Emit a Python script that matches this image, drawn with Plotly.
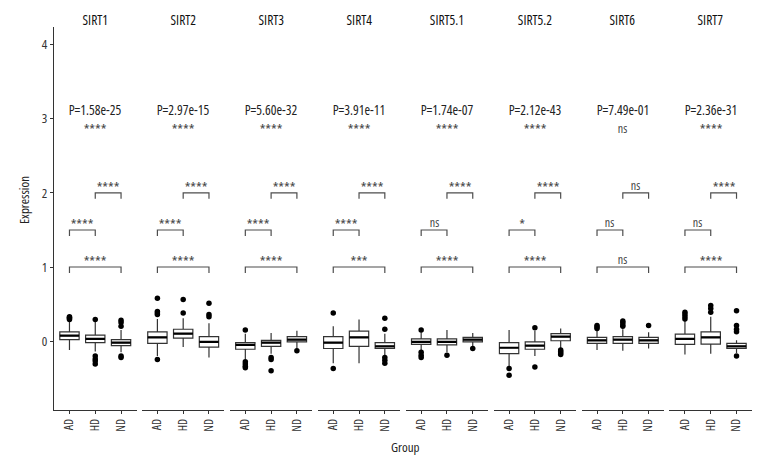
import plotly.graph_objects as go
from plotly.subplots import make_subplots

genes = ["SIRT1", "SIRT2", "SIRT3", "SIRT4", "SIRT5.1", "SIRT5.2", "SIRT6", "SIRT7"]
groups = ["AD", "HD", "ND"]

# box statistics per gene: lists over groups AD, HD, ND
q1 = [[0.02, -0.02, -0.06], [-0.03, 0.04, -0.08], [-0.11, -0.07, -0.01], [-0.10, -0.07, -0.10],
      [-0.045, -0.05, -0.01], [-0.17, -0.11, 0.005], [-0.03, -0.03, -0.03], [-0.045, -0.04, -0.10]]
med = [[0.075, 0.03, -0.02], [0.05, 0.10, -0.01], [-0.05, -0.02, 0.02], [-0.02, 0.05, -0.07],
       [-0.01, -0.01, 0.02], [-0.09, -0.06, 0.06], [0.01, 0.02, 0.01], [0.03, 0.05, -0.07]]
q3 = [[0.125, 0.08, 0.02], [0.125, 0.16, 0.06], [-0.02, 0.01, 0.06], [0.06, 0.135, -0.02],
      [0.03, 0.03, 0.05], [-0.02, -0.01, 0.10], [0.05, 0.06, 0.05], [0.095, 0.125, -0.03]]
lo = [[-0.12, -0.14, -0.15], [-0.20, -0.08, -0.22], [-0.25, -0.17, -0.10], [-0.30, -0.30, -0.20],
      [-0.13, -0.15, -0.07], [-0.35, -0.20, -0.11], [-0.12, -0.13, -0.10], [-0.18, -0.17, -0.16]]
hi = [[0.27, 0.26, 0.15], [0.30, 0.31, 0.24], [0.10, 0.11, 0.14], [0.20, 0.29, 0.10],
      [0.12, 0.15, 0.11], [0.15, 0.14, 0.17], [0.15, 0.16, 0.12], [0.28, 0.33, 0.01]]
outliers = [
    [[0.29, 0.31, 0.32, 0.33], [0.29, -0.20, -0.24, -0.27, -0.31], [0.20, 0.25, 0.28, -0.20, -0.22]],
    [[0.36, 0.38, 0.40, 0.58, -0.25], [0.38, 0.56], [0.33, 0.36, 0.51]],
    [[0.15, -0.28, -0.31, -0.34, -0.36], [-0.22, -0.25, -0.40], [-0.13]],
    [[0.38, -0.37], [], [0.16, 0.31, -0.22, -0.26, -0.30]],
    [[0.15, -0.15, -0.19, -0.22], [-0.19], [-0.10]],
    [[-0.37, -0.46], [0.18, -0.35], [-0.12, -0.14, -0.16, -0.18]],
    [[0.17, 0.19, 0.21], [0.20, 0.22, 0.25, 0.27], [0.21]],
    [[0.30, 0.33, 0.36, 0.39], [0.39, 0.44, 0.48], [0.125, 0.16, 0.21, 0.41, -0.20]],
]

p_values = ["1.58e-25", "2.97e-15", "5.60e-32", "3.91e-11", "1.74e-07", "2.12e-43", "7.49e-01", "2.36e-31"]
overall_sig = ["****", "****", "****", "****", "****", "****", "ns", "****"]
sig_ad_hd = ["****", "****", "****", "****", "ns", "*", "ns", "ns"]
sig_hd_nd = ["****", "****", "****", "****", "****", "****", "ns", "****"]
sig_ad_nd = ["****", "****", "****", "***", "****", "****", "ns", "****"]

FONT = "Open Sans, DejaVu Sans Condensed, sans-serif"
AX = "#333333"
BR = "#4d4d4d"

PLOT_W = 768 - 54 - 16
n = len(genes)
fig = make_subplots(rows=1, cols=n, shared_yaxes=True, horizontal_spacing=5.4 / PLOT_W)


def sig_font(lab):
    return dict(family=FONT, size=12 if lab == "ns" else 14.5, color="#444")


BW = 0.75
for k in range(n):
    col = k + 1
    xr = "x" if col == 1 else f"x{col}"
    xs = [1, 2, 3]
    fig.add_trace(go.Box(
        x=xs, q1=q1[k], median=med[k], q3=q3[k], lowerfence=lo[k], upperfence=hi[k],
        width=BW, whiskerwidth=0, fillcolor="white",
        line=dict(color=AX, width=1.2), boxpoints=False, showlegend=False, hoverinfo="skip"),
        row=1, col=col)
    mx, my = [], []
    for i, m in enumerate(med[k]):
        mx += [xs[i] - BW / 2, xs[i] + BW / 2, None]
        my += [m, m, None]
    fig.add_trace(go.Scatter(x=mx, y=my, mode="lines", line=dict(color="black", width=2.2),
                             showlegend=False, hoverinfo="skip"), row=1, col=col)
    ox, oy = [], []
    for i, pts in enumerate(outliers[k]):
        ox += [xs[i]] * len(pts)
        oy += pts
    fig.add_trace(go.Scatter(x=ox, y=oy, mode="markers", marker=dict(color="black", size=5.5),
                             showlegend=False, hoverinfo="skip"), row=1, col=col)
    pairs = [(1, 2, 1.5, sig_ad_hd[k]), (2, 3, 2.0, sig_hd_nd[k]), (1, 3, 1.0, sig_ad_nd[k])]
    for a, b, yb, lab in pairs:
        fig.add_trace(go.Scatter(x=[a, a, b, b], y=[yb - 0.08, yb, yb, yb - 0.08], mode="lines",
                                 line=dict(color=BR, width=1.2), showlegend=False, hoverinfo="skip"),
                      row=1, col=col)
        fig.add_annotation(x=(a + b) / 2, y=yb + (0.1 if lab == "ns" else 0.07), xref=xr, yref="y",
                           text=lab, showarrow=False, yanchor="middle", font=sig_font(lab))
    fig.add_annotation(x=2, y=3.12, xref=xr, yref="y", text="P=" + p_values[k], showarrow=False,
                       yanchor="middle", font=dict(family=FONT, size=13.5, color="#222"))
    fig.add_annotation(x=2, y=2.87 if overall_sig[k] == "ns" else 2.85, xref=xr, yref="y",
                       text=overall_sig[k], showarrow=False, yanchor="middle", font=sig_font(overall_sig[k]))
    fig.add_annotation(x=2, y=1, xref=xr, yref="paper", text=genes[k], showarrow=False,
                       yanchor="middle", yshift=7, font=dict(family=FONT, size=13.5, color="#111"))
    fig.update_xaxes(range=[0.4, 3.6], tickvals=xs, ticktext=groups, tickangle=-90,
                     showline=True, linecolor=AX, linewidth=1.2, ticks="outside", ticklen=3,
                     tickcolor=AX, tickwidth=1, showgrid=False, zeroline=False, automargin=False,
                     tickfont=dict(family=FONT, size=12, color="#333"), row=1, col=col)

fig.update_yaxes(range=[-0.93, 4.24], showgrid=False, zeroline=False, automargin=False)
fig.update_yaxes(tickvals=[0, 1, 2, 3, 4], showline=True, linecolor=AX, linewidth=1.2,
                 ticks="outside", ticklen=3, tickcolor=AX, tickwidth=1,
                 tickfont=dict(family=FONT, size=13, color="#333"), row=1, col=1)

fig.add_annotation(x=0, y=(410 - 200) / 383, xref="paper", yref="paper", text="Expression",
                   showarrow=False, textangle=-90, xanchor="center", yanchor="middle", xshift=-30,
                   font=dict(family=FONT, size=13, color="#222"))
fig.add_annotation(x=(405 - 54) / PLOT_W, y=0, xref="paper", yref="paper", text="Group", showarrow=False,
                   yanchor="middle", yshift=-37, font=dict(family=FONT, size=13, color="#222"))

fig.update_layout(template="none", width=768, height=468, margin=dict(l=54, r=16, t=27, b=58),
                  plot_bgcolor="white", paper_bgcolor="white", showlegend=False,
                  font=dict(family=FONT))

js = r"""
document.body.style.margin = '0';
var st = document.createElement('style');
st.textContent = 'svg text { font-stretch: 75% !important; }';
document.head.appendChild(st);
var gd = document.getElementById('{plot_id}');
if (document.fonts && document.fonts.ready) {
  document.fonts.ready.then(function(){ Plotly.redraw(gd); });
} else { Plotly.redraw(gd); }
"""
fig.write_html("out.html", post_script=js, config={"displayModeBar": False})
